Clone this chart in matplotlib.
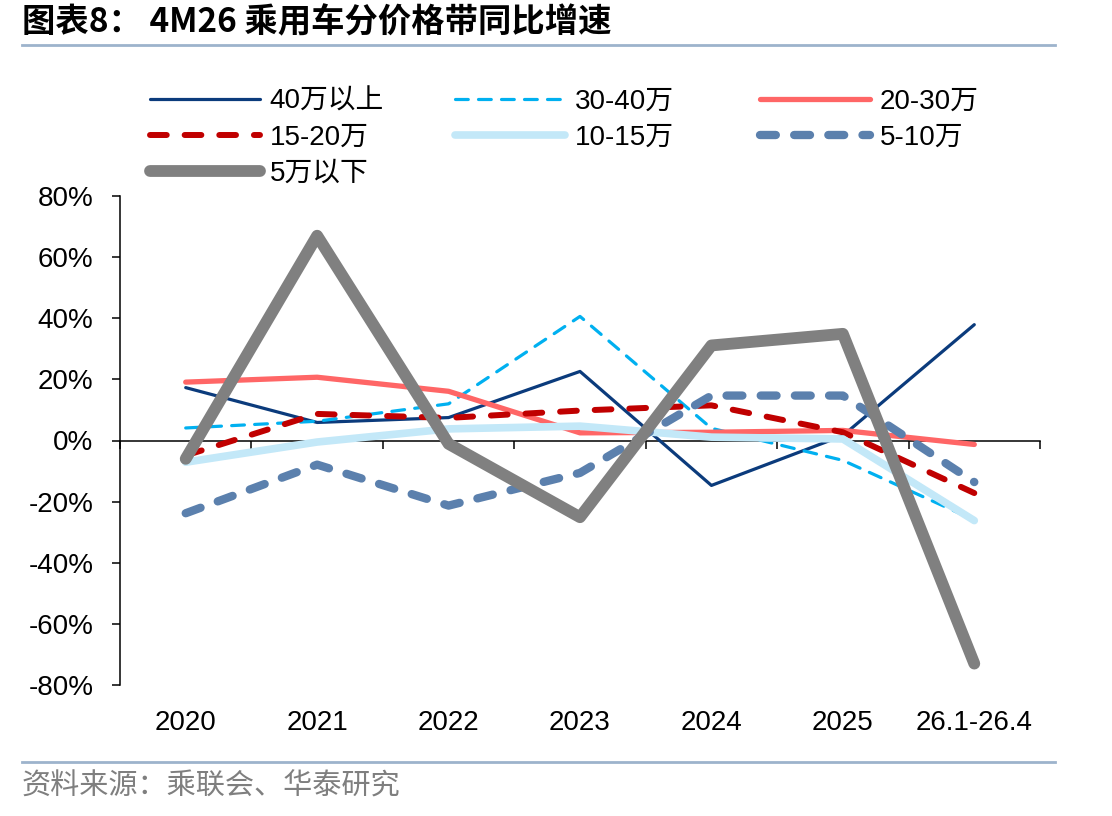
import matplotlib
matplotlib.use("Agg")
import matplotlib.pyplot as plt
from matplotlib.lines import Line2D

plt.rcParams['font.family'] = ['Liberation Sans', 'Noto Sans CJK SC', 'DejaVu Sans']

categories = ['2020', '2021', '2022', '2023', '2024', '2025', '26.1-26.4']

# 同比增速, %
s_40_up = [17.3, 5.9, 7.5, 22.6, -14.7, 1.6, 37.9]
s_30_40 = [4.1, 6.3, 12.0, 40.6, 4.0, -6.5, -26.0]
s_20_30 = [19.1, 20.7, 16.1, 2.5, 2.7, 3.3, -1.3]
s_15_20 = [-4.9, 8.7, 7.4, 9.8, 11.5, 2.7, -17.2]
s_10_15 = [-7.1, -0.5, 3.8, 4.7, 1.1, 0.5, -26.2]
s_5_10 = [-23.8, -7.9, -21.3, -10.6, 14.7, 14.7, -13.6]
s_5_down = [-6.0, 67.0, -1.1, -25.1, 31.1, 34.9, -73.0]

yticks = [80, 60, 40, 20, 0, -20, -40, -60, -80]

fig = plt.figure(figsize=(11.12, 8.16), dpi=100)
ax = fig.add_axes([120/1112, 131/816, 920/1112, 489/816])

x = list(range(len(categories)))
kw = dict(solid_joinstyle='round', dash_joinstyle='round')

l1, = ax.plot(x, s_40_up, color='#0B3B7C', lw=2.3, solid_capstyle='round', label='40万以上', **kw)
l2, = ax.plot(x, s_30_40, color='#00B0F0', lw=2.3, dashes=(4.0, 3.2), dash_capstyle='round', label='30-40万', **kw)
l3, = ax.plot(x, s_20_30, color='#FF6666', lw=3.8, solid_capstyle='round', label='20-30万', **kw)
l4, = ax.plot(x, s_15_20, color='#C00000', lw=4.3, dashes=(2.8, 3.0), dash_capstyle='round', label='15-20万', **kw)
l5, = ax.plot(x, s_10_15, color='#C3E8F8', lw=5.5, solid_capstyle='round', label='10-15万', **kw)
l6, = ax.plot(x, s_5_10, color='#5B80AD', lw=6.0, dashes=(1.9, 2.2), dash_capstyle='round', label='5-10万', **kw)
l7, = ax.plot(x, s_5_down, color='#808080', lw=8.5, solid_capstyle='round', label='5万以下', **kw)

ax.set_xlim(-0.5, len(categories) - 0.5)
ax.set_ylim(-80, 80)
ax.set_yticks(yticks)
ax.set_yticklabels([f'{v}%' for v in yticks])
ax.tick_params(axis='y', direction='out', length=6, width=1.1, pad=13, labelsize=20)
ax.set_xticks(x)
ax.set_xticklabels(categories)
ax.tick_params(axis='x', length=0, pad=18, labelsize=20)
for s in ['top', 'right', 'bottom']:
    ax.spines[s].set_visible(False)
ax.spines['left'].set_linewidth(1.1)

# zero line with category boundary ticks
sec = ax.secondary_xaxis(0, transform=ax.transData)
sec.set_xticks([i - 0.5 for i in range(len(categories) + 1)])
sec.set_xticklabels([])
sec.tick_params(direction='out', length=6, width=1.1)
sec.spines['bottom'].set_linewidth(1.1)

# legends, three columns
leg_kw = dict(loc='upper left', frameon=False, fontsize=20, handlelength=3.95,
              handletextpad=0.36, labelspacing=0.36, borderpad=0, borderaxespad=0)
fig.legend([l1, l4, l7], ['40万以上', '15-20万', '5万以下'], bbox_to_anchor=(150/1112, 1 - 89/816), **leg_kw)
fig.legend([l2, l5], ['30-40万', '10-15万'], bbox_to_anchor=(455/1112, 1 - 89/816), **leg_kw)
fig.legend([l3, l6], ['20-30万', '5-10万'], bbox_to_anchor=(760/1112, 1 - 89/816), **leg_kw)

# title and source
fig.text(22/1112, 1 - 23/816, '图表8： 4M26 乘用车分价格带同比增速', fontsize=24, fontweight='bold',
         family=['Noto Sans CJK SC'], va='center', ha='left')
fig.add_artist(Line2D([22/1112, 1055/1112], [1 - 45/816] * 2, transform=fig.transFigure,
                      color='#9DB3CC', lw=2))
fig.add_artist(Line2D([22/1112, 1055/1112], [1 - 762/816] * 2, transform=fig.transFigure,
                      color='#9DB3CC', lw=2))
fig.text(22/1112, 1 - 787/816, '资料来源：乘联会、华泰研究', fontsize=21, color='#7F7F7F',
         family=['Noto Sans CJK SC'], va='center', ha='left')

fig.savefig('out.png', dpi=100)
